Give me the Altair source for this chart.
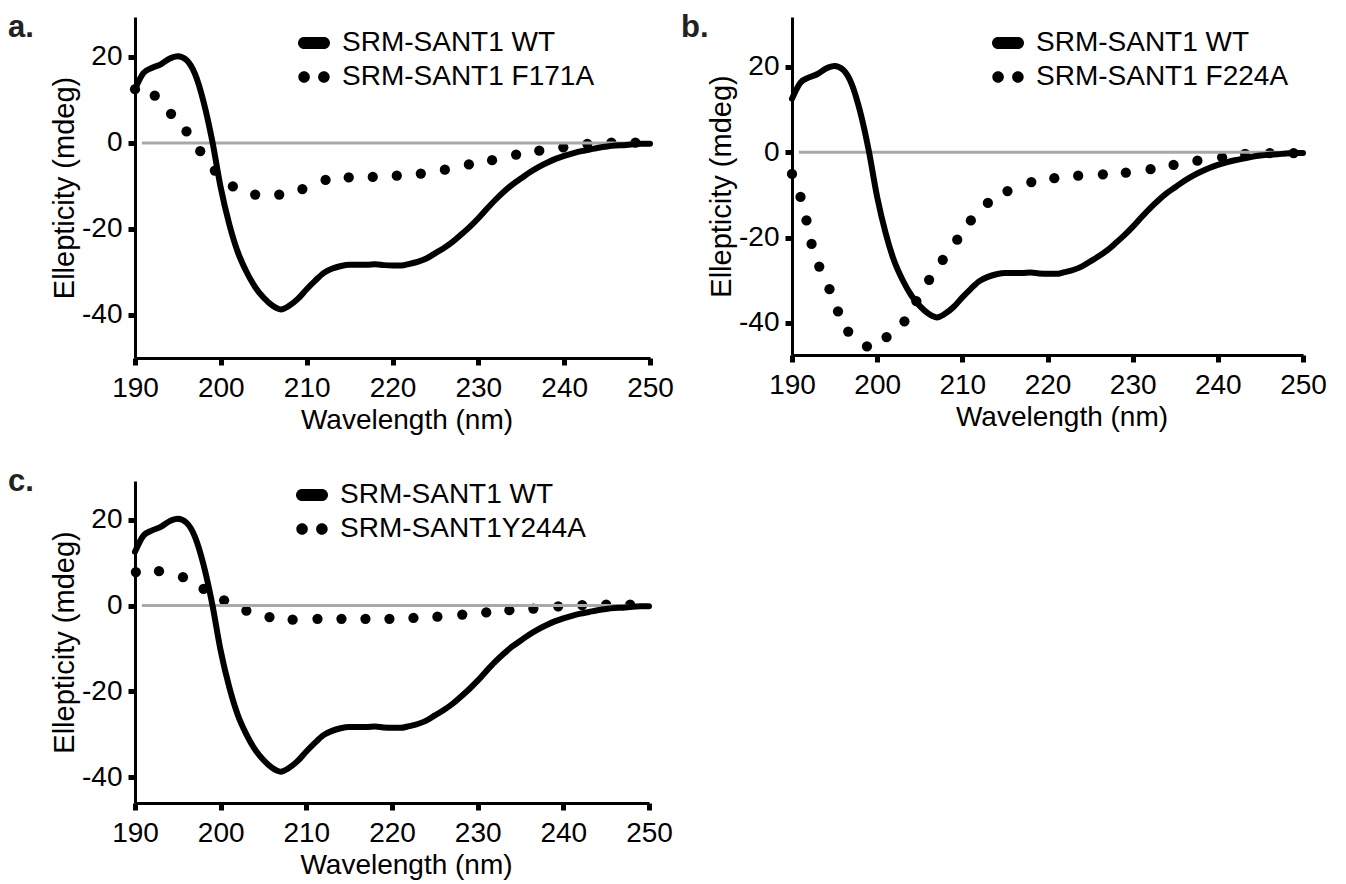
import altair as alt
import pandas as pd

# ---------------- data ----------------
wt_wavelength = list(range(190, 251))
wt_value = [12.5, 16.3, 17.5, 18.3, 19.6, 20.2, 19.3, 16.0, 9.5, 0.5,
            -10.5, -19.0, -25.5, -30.0, -33.5, -36.0, -37.8, -38.7, -37.8, -36.2,
            -34.0, -32.0, -30.2, -29.2, -28.6, -28.3, -28.3, -28.3, -28.2, -28.4,
            -28.5, -28.5, -28.1, -27.6, -26.8, -25.6, -24.4, -23.0, -21.3, -19.5,
            -17.5, -15.3, -13.2, -11.3, -9.6, -8.2, -6.8, -5.6, -4.6, -3.7,
            -3.0, -2.4, -1.9, -1.5, -1.1, -0.8, -0.6, -0.5, -0.3, -0.2, -0.2]

f171a_wavelength = [190.0, 192.3, 194.2, 196.0, 197.6, 199.3, 201.4, 204.0, 206.8, 209.5,
                    212.2, 214.9, 217.7, 220.5, 223.3, 226.1, 228.9, 231.6, 234.4, 237.1,
                    239.9, 242.7, 245.5, 248.3]
f171a_value = [12.5, 11.0, 6.8, 2.7, -1.9, -6.4, -10.1, -12.0, -12.0, -10.7,
               -8.6, -8.0, -7.9, -7.6, -7.1, -6.2, -5.0, -4.0, -2.7, -1.8,
               -1.0, -0.2, 0.1, 0.1]

f224a_wavelength = [190.0, 191.0, 191.7, 192.3, 193.2, 194.4, 195.4, 196.6, 198.8, 201.1,
                    203.2, 204.6, 206.1, 207.7, 209.4, 211.0, 213.0, 215.3, 218.1, 220.8,
                    223.6, 226.5, 229.2, 232.1, 234.8, 237.6, 240.5, 243.2, 246.1, 248.9]
f224a_value = [-5.1, -10.5, -16.0, -21.5, -26.8, -32.1, -37.3, -42.0, -45.5, -43.3,
               -39.6, -34.9, -29.9, -25.2, -20.5, -16.0, -11.9, -9.1, -7.0, -6.1,
               -5.5, -5.2, -4.8, -4.0, -3.0, -2.0, -1.2, -0.4, -0.2, -0.2]

y244a_wavelength = [190.1, 192.8, 195.6, 198.0, 200.4, 203.0, 205.7, 208.4, 211.3, 214.1,
                    216.9, 219.7, 222.5, 225.3, 228.2, 231.0, 233.7, 236.5, 239.4, 242.2,
                    245.0, 247.8]
y244a_value = [7.8, 8.0, 6.6, 3.9, 1.2, -1.2, -2.7, -3.3, -3.1, -3.1,
               -3.1, -3.1, -2.9, -2.6, -2.1, -1.6, -1.1, -0.7, -0.2, 0.1,
               0.2, 0.2]

x_ticks = [190, 200, 210, 220, 230, 240, 250]
y_ticks = [-40, -20, 0, 20]
zero_start = [190.8]
zero_end = [250]

wt_label = "SRM-SANT1 WT"

FONT = "Liberation Sans"
PILL = ("M -0.625 -0.375 L 0.625 -0.375 A 0.375 0.375 0 0 1 0.625 0.375 "
        "L -0.625 0.375 A 0.375 0.375 0 0 1 -0.625 -0.375 Z")
DOTS = ("M -0.98 0 A 0.36 0.36 0 1 0 -0.26 0 A 0.36 0.36 0 1 0 -0.98 0 Z "
        "M 0.26 0 A 0.36 0.36 0 1 0 0.98 0 A 0.36 0.36 0 1 0 0.26 0 Z")


def panel(letter, mut_label, mut_wl, mut_val, ydom, width, height,
          leg_x, leg_y, lab_x, lab_y):
    wt_df = pd.DataFrame({"wavelength": wt_wavelength, "value": wt_value})
    mut_df = pd.DataFrame({"wavelength": mut_wl, "value": mut_val})
    zero_df = pd.DataFrame({"x": zero_start, "x2": zero_end, "y": [0]})
    leg_df = pd.DataFrame({"series": [wt_label, mut_label]})

    xs = alt.Scale(domain=[190, 250], nice=False, zero=False)
    ys = alt.Scale(domain=ydom, nice=False, zero=False)
    xax = alt.Axis(values=x_ticks, title="Wavelength (nm)", titleX=width / 2 + 14,
                   labelFlush=False, labelExpr="'' + datum.value", labelPadding=9)
    yax = alt.Axis(values=y_ticks, title="Ellepticity (mdeg)", labelFlush=False,
                   labelExpr="'' + datum.value", titlePadding=2, titleFontSize=29)

    dots = alt.Chart(mut_df).mark_circle(size=105, color="black", opacity=1).encode(
        x=alt.X("wavelength:Q", scale=xs, axis=xax),
        y=alt.Y("value:Q", scale=ys, axis=yax),
    )
    zero = alt.Chart(zero_df).mark_rule(color="#a9a9a9", strokeWidth=3).encode(
        x=alt.X("x:Q", scale=xs), x2="x2:Q", y=alt.Y("y:Q", scale=ys)
    )
    line = alt.Chart(wt_df).mark_line(
        color="black", strokeWidth=6, strokeCap="round", strokeJoin="round",
        interpolate="monotone"
    ).encode(
        x=alt.X("wavelength:Q", scale=xs),
        y=alt.Y("value:Q", scale=ys),
    )
    legend = alt.Chart(leg_df).transform_filter("false").mark_point(
        filled=True, color="black", opacity=1
    ).encode(
        shape=alt.Shape(
            "series:N",
            scale=alt.Scale(domain=[wt_label, mut_label], range=[PILL, DOTS]),
            legend=alt.Legend(
                title=None, orient="none", legendX=leg_x, legendY=leg_y,
                symbolSize=1024, symbolFillColor="black", symbolStrokeWidth=0,
                labelFont=FONT, labelFontSize=28, labelColor="black",
                labelOffset=12, labelLimit=400, rowPadding=4, padding=0,
            ),
        )
    )
    label = alt.Chart(alt.Data(values=[{}])).mark_text(
        text=letter, font=FONT, fontSize=31, fontWeight="bold", color="#222222",
        align="left", baseline="alphabetic"
    ).encode(x=alt.value(lab_x), y=alt.value(lab_y))

    return alt.layer(dots, zero, line, legend, label).properties(
        width=width, height=height
    )


pa = panel("a.", "SRM-SANT1 F171A", f171a_wavelength, f171a_value,
           [-50, 29.3], 515, 341, 163, 10, -127, 20)
pb = panel("b.", "SRM-SANT1 F224A", f224a_wavelength, f224a_value,
           [-47.5, 31.65], 511, 338, 200, 10, -111, 20)
pc = panel("c.", "SRM-SANT1Y244A", y244a_wavelength, y244a_value,
           [-46, 29], 514, 322, 161, -2, -127, 9.5)

top = alt.hconcat(pa, pb, spacing=7).resolve_scale(shape="independent").resolve_legend(shape="independent")
chart = alt.vconcat(top, pc, spacing=31).resolve_scale(
    shape="independent").resolve_legend(shape="independent").properties(
    padding={"left": 0, "top": 4, "right": 5, "bottom": 5}
).configure_view(strokeWidth=0).configure_axis(
    labelFont=FONT, labelFontSize=28, labelColor="black",
    titleFont=FONT, titleFontSize=28, titleFontWeight="normal", titleColor="black",
    domainColor="black", domainWidth=3, tickColor="black", tickWidth=5, tickSize=7,
    grid=False, labelPadding=6, titlePadding=4
)

chart.save("out.html", embed_options={"renderer": "svg", "actions": False})
